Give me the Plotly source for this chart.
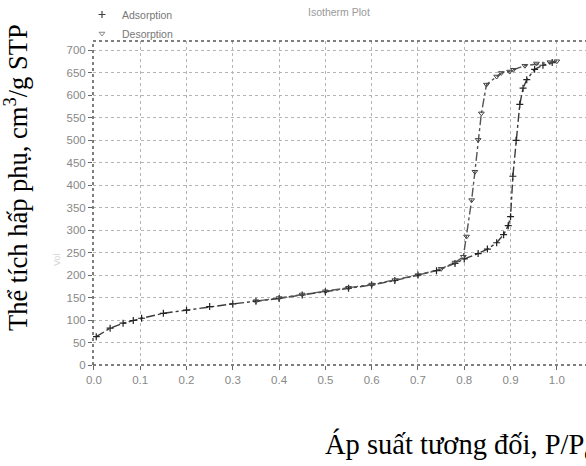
import plotly.graph_objects as go

# ---- data ----
ads_x = [0.005, 0.035, 0.063, 0.085, 0.103, 0.15, 0.2, 0.25, 0.3, 0.35, 0.4, 0.45,
         0.5, 0.55, 0.6, 0.65, 0.7, 0.74, 0.78, 0.8, 0.83, 0.85, 0.87, 0.885, 0.895,
         0.9, 0.905, 0.912, 0.92, 0.927, 0.935, 0.952, 0.97, 0.99]
ads_y = [63, 82, 93, 99, 104, 115, 122, 130, 136, 142, 148, 156,
         163, 171, 178, 188, 200, 210, 226, 236, 248, 258, 272, 290, 310,
         330, 420, 500, 580, 616, 635, 658, 667, 673]

des_x = [1.0, 0.985, 0.956, 0.931, 0.906, 0.898, 0.88, 0.87, 0.848, 0.837, 0.83,
         0.823, 0.816, 0.805, 0.798, 0.78, 0.75, 0.7, 0.65, 0.6, 0.55, 0.5, 0.45,
         0.4, 0.35]
des_y = [676, 674, 671, 666, 657, 653, 650, 642, 624, 560, 501,
         430, 367, 286, 241, 228, 214, 200, 189, 179, 172, 164, 157,
         149, 142]

x_ticks = [0.0, 0.1, 0.2, 0.3, 0.4, 0.5, 0.6, 0.7, 0.8, 0.9, 1.0]
x_tick_labels = ["0.0", "0.1", "0.2", "0.3", "0.4", "0.5", "0.6", "0.7", "0.8", "0.9", "1.0"]
y_ticks = list(range(0, 701, 50))

series_names = ["Adsorption", "Desorption"]
title_text = "Isotherm Plot"
y_title = "Thể tích hấp phụ, cm<sup>3</sup>/g STP"
x_title = "Áp suất tương đối, P/P<sub>o</sub>"

W, H = 586, 466
L, R, T, B = 93, 0, 41, 101
PW, PH = W - L - R, H - T - B


def px(xp):
    return (xp - L) / PW


def py(yp):
    return (H - B - yp) / PH


fig = go.Figure()
fig.add_trace(go.Scatter(x=ads_x, y=ads_y, mode="lines+markers", showlegend=False,
                         line=dict(color="#3a3a3a", width=1.4, dash="dashdot"),
                         marker=dict(symbol="cross-thin", size=5,
                                     line=dict(color="#222", width=1.2))))
fig.add_trace(go.Scatter(x=des_x, y=des_y, mode="lines+markers", showlegend=False,
                         line=dict(color="#555", width=1.4, dash="dashdot"),
                         marker=dict(symbol="triangle-down-open", size=5,
                                     color="#444", line=dict(width=1))))
# legend entries (markers only)
fig.add_trace(go.Scatter(x=[None], y=[None], mode="markers", name=series_names[0],
                         marker=dict(symbol="cross-thin", size=5, line=dict(color="#444", width=1.2))))
fig.add_trace(go.Scatter(x=[None], y=[None], mode="markers", name=series_names[1],
                         marker=dict(symbol="triangle-down-open", size=5, color="#888", line=dict(width=1))))

tick_font = dict(family="Liberation Sans, Arial, sans-serif", size=11.5, color="#888")

fig.update_layout(
    width=W, height=H,
    margin=dict(l=L, r=R, t=T, b=B),
    paper_bgcolor="white", plot_bgcolor="white",
    showlegend=True,
    legend=dict(x=px(82), y=py(0), xanchor="left", yanchor="top", xref="paper", yref="paper",
                bgcolor="rgba(0,0,0,0)", font=dict(family="Liberation Sans, Arial, sans-serif",
                                                   size=10.5, color="#777"),
                itemwidth=30, tracegroupgap=0),
    xaxis=dict(range=[-0.002, 1.063], tickvals=x_ticks, ticktext=x_tick_labels,
               showgrid=True, gridcolor="#b5b5b5", griddash="dot", gridwidth=1,
               zeroline=False, showline=False, ticks="outside", ticklen=4,
               tickcolor="#666", tickfont=tick_font),
    yaxis=dict(range=[0, 721], tickvals=y_ticks,
               showgrid=True, gridcolor="#b5b5b5", griddash="dot", gridwidth=1,
               zeroline=False, showline=False, ticks="outside", ticklen=4,
               tickcolor="#666", tickfont=tick_font),
    annotations=[
        dict(text=title_text, x=px(339), y=py(12), xref="paper", yref="paper",
             xanchor="center", yanchor="middle", showarrow=False,
             font=dict(family="Liberation Sans, Arial, sans-serif", size=10.5, color="#999")),
        dict(text=y_title, x=px(16), y=py(178), xref="paper", yref="paper", showarrow=False,
             textangle=-90, xanchor="center", yanchor="middle",
             font=dict(family="Liberation Serif, Times New Roman, serif", size=26.5, color="black")),
        dict(text="Vol", x=px(57), y=py(260), xref="paper", yref="paper", showarrow=False,
             textangle=-90, xanchor="center", yanchor="middle",
             font=dict(family="Liberation Sans, Arial, sans-serif", size=9, color="#d5d5d5")),
        dict(text=x_title, x=px(323), y=py(446), xref="paper", yref="paper", showarrow=False,
             xanchor="left", yanchor="middle",
             font=dict(family="Liberation Serif, Times New Roman, serif", size=28.5, color="black")),
    ],
    shapes=[
        dict(type="line", xref="paper", yref="paper", x0=0, x1=1, y0=1, y1=1,
             line=dict(color="#555", width=1.5, dash="dot")),
        dict(type="line", xref="paper", yref="paper", x0=0, x1=1, y0=0, y1=0,
             line=dict(color="#555", width=1.5, dash="dot")),
        dict(type="line", xref="paper", yref="paper", x0=0, x1=0, y0=0, y1=1,
             line=dict(color="#555", width=1.5, dash="dot")),
    ],
)

fig.write_html("out.html")
